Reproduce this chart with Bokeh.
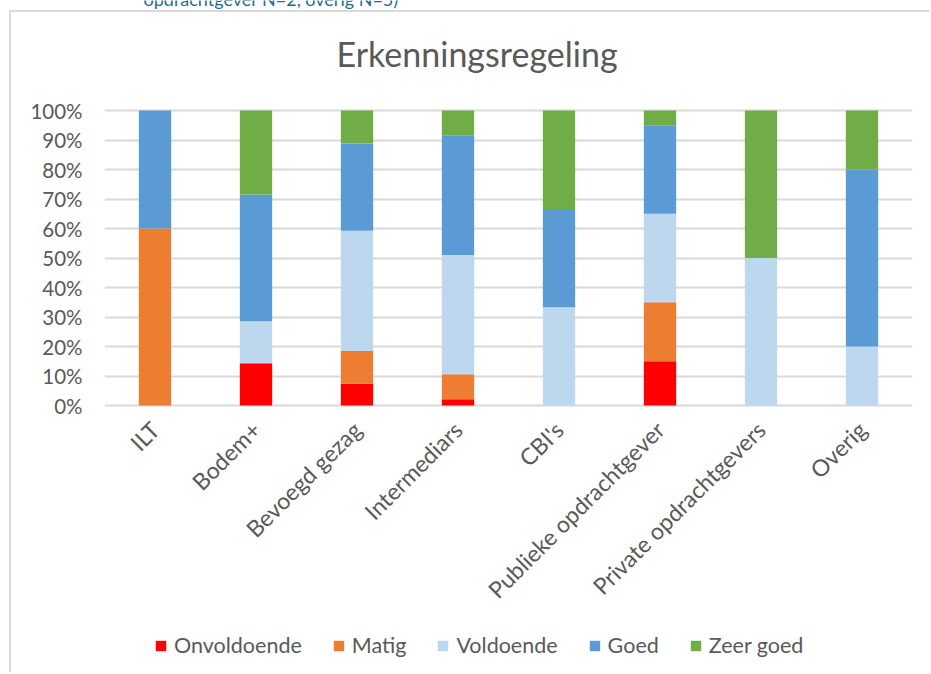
import math
from bokeh.plotting import figure
from bokeh.models import FactorRange, Range1d, FixedTicker, Legend, LegendItem, Label, ColumnDataSource
from bokeh.embed import file_html
from bokeh.resources import INLINE

categories = ["ILT", "Bodem+", "Bevoegd gezag", "Intermediars", "CBI's",
              "Publieke opdrachtgever", "Private opdrachtgevers", "Overig"]
series = ["Onvoldoende", "Matig", "Voldoende", "Goed", "Zeer goed"]
onvoldoende = [0, 14.3, 7.4, 2.1, 0, 15, 0, 0]
matig = [60, 0, 11.1, 8.5, 0, 20, 0, 0]
voldoende = [0, 14.3, 40.7, 40.4, 33.3, 30, 50, 20]
goed = [40, 42.9, 29.6, 40.4, 33.3, 30, 0, 60]
zeer_goed = [0, 28.5, 11.2, 8.6, 33.4, 5, 50, 20]
colors = ["#FF0000", "#ED7D31", "#BDD7EE", "#5B9BD5", "#70AD47"]
y_ticks = [0, 10, 20, 30, 40, 50, 60, 70, 80, 90, 100]
title_text = "Erkenningsregeling"
subtitle_text = "opdrachtgever N=2, overig N=5)"

FONT = "Lato"
GREY = "#595959"

# layout constants (pixels)
H = 672                 # canvas / frame height
PX_TOP, PX_ZERO = 110, 405   # pixel rows of 100% and 0%
ppu = (PX_ZERO - PX_TOP) / 100.0
y_end = 100 + PX_TOP / ppu
y_start = -(H - PX_ZERO) / ppu

source = ColumnDataSource(dict(cat=categories, Onvoldoende=onvoldoende, Matig=matig,
                               Voldoende=voldoende, Goed=goed, **{"Zeer goed": zeer_goed}))

p = figure(frame_width=808, frame_height=H, output_backend="svg", toolbar_location=None,
           title=None,
           x_range=FactorRange(*categories, range_padding=0), y_range=Range1d(y_start, y_end),
           min_border_left=104, min_border_right=17, min_border_top=0,
           min_border_bottom=0)
p.styles = {
    "background": "linear-gradient(#d9d9d9,#d9d9d9) 9px 10px / 2px 100% no-repeat, "
                  "linear-gradient(#d9d9d9,#d9d9d9) 9px 10px / 100% 2px no-repeat, #ffffff",
}
p.border_fill_color = None
p.background_fill_color = None
p.outline_line_color = None

renderers = p.vbar_stack(series, x="cat", width=0.32, source=source, color=colors,
                         line_color=None)

# axes
p.xaxis.fixed_location = 0
p.yaxis.ticker = FixedTicker(ticks=y_ticks)
p.yaxis.major_label_overrides = {t: f"{t}%" for t in y_ticks}
for ax in (p.xaxis, p.yaxis):
    ax.axis_line_color = None
    ax.major_tick_line_color = None
    ax.minor_tick_line_color = None
    ax.major_label_text_font = FONT
    ax.major_label_text_color = GREY
p.yaxis.major_label_text_font_size = "20.5px"
p.xaxis.major_label_text_font_size = "23px"
p.yaxis.major_label_standoff = 16
p.xaxis.major_label_orientation = math.pi / 4
p.xaxis.major_label_standoff = 14

p.xgrid.grid_line_color = None
p.ygrid.grid_line_color = "#d9d9d9"
p.ygrid.grid_line_width = 2

# title and clipped subtitle (screen units, measured from frame bottom-left)
p.add_layout(Label(x=232, y=H - 53, x_units="screen", y_units="screen",
                   text=title_text, text_font=FONT, text_font_size="34px",
                   text_color=GREY, text_baseline="alphabetic"))
p.add_layout(Label(x=39, y=H + 2, x_units="screen", y_units="screen",
                   text=subtitle_text, text_font=FONT,
                   text_font_size="18px", text_color="#1F6E8C",
                   text_baseline="alphabetic"))

# legend
items = [LegendItem(label=s, renderers=[r]) for s, r in zip(series, renderers)]
legend = Legend(items=items, orientation="horizontal", location=(50, 14),
                label_text_font=FONT, label_text_font_size="21.5px",
                label_text_color=GREY, glyph_width=13, glyph_height=13,
                label_standoff=7, spacing=30, padding=4, margin=0,
                border_line_color=None, background_fill_alpha=0)
p.add_layout(legend, "center")

open("out.html", "w").write(file_html(p, INLINE))
